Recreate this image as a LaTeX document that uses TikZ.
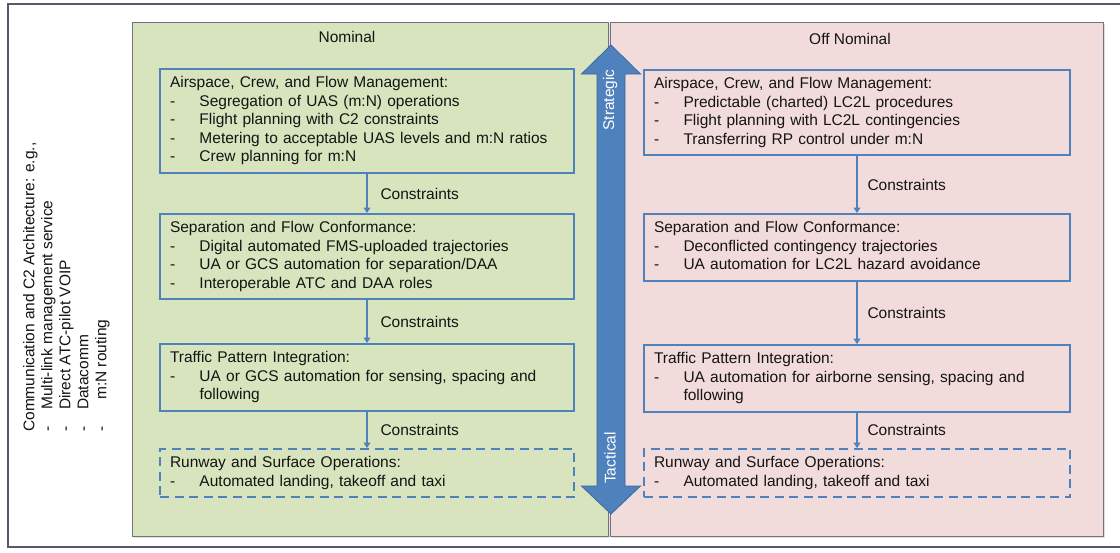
\documentclass[tikz,border=0pt]{standalone}
\usepackage{fontspec}
\setmainfont{Liberation Sans}
\usetikzlibrary{arrows.meta,shadows}
\setlength\parindent{0pt}

\definecolor{txt}{HTML}{141414}
\definecolor{nomfill}{HTML}{D7E4BD}
\definecolor{offfill}{HTML}{F2DCDB}
\definecolor{boxblue}{HTML}{4F81BD}
\definecolor{arrowedge}{HTML}{3A679C}
\definecolor{panelline}{HTML}{76717F}
\definecolor{frameline}{HTML}{5A5670}

% heading line and dashed list item inside a box
\newcommand\boxhead[1]{\noindent\strut#1\strut\par}
\newcommand\boxitem[1]{\hangindent=29.5pt\hangafter=1\noindent\strut\makebox[29.5pt][l]{-}#1\strut\par}

\begin{document}
\begin{tikzpicture}[x=1pt,y=-1pt,
  font=\fontsize{15.5pt}{18.6pt}\selectfont,
  every node/.style={text=txt},
  panel/.style={draw=panelline, line width=1.2pt, anchor=north west, inner sep=0pt,
    minimum height=514pt,
    drop shadow={opacity=0.25, shadow xshift=1.2pt, shadow yshift=-1.2pt}},
  infobox/.style={draw=boxblue, line width=2pt, text width=#1, inner xsep=10pt,
    inner ysep=5.5pt, align=left, anchor=north west},
  dashedbox/.style={infobox=#1, dash pattern=on 9pt off 5.5pt},
  conn/.style={draw=boxblue, line width=1.1pt, -{Triangle[width=7pt,length=5.5pt]}},
  lbl/.style={anchor=west, inner sep=0pt},
]
\useasboundingbox (0,0) rectangle (1120,552);
\clip (0,0) rectangle (1120,552);
\fill[white] (0,0) rectangle (1120,552);

% outer frame
\draw[frameline, line width=1.1pt] (8,4) rectangle (1135,547);

% the two panels
\node[panel, fill=nomfill, minimum width=476pt] (nom) at (132,22) {};
\node[panel, fill=offfill, minimum width=493pt] (off) at (610,22) {};
\node (nomtitle) at (347,37) {Nominal};
\node (offtitle) at (850,39) {Off Nominal};

% strategic / tactical double arrow
\filldraw[fill=boxblue, draw=arrowedge, line width=0.8pt]
  (611,45) -- (640.5,74) -- (625,74) -- (625,486) -- (640.5,486) -- (611,514)
  -- (581.5,486) -- (597,486) -- (597,74) -- (581.5,74) -- cycle;
\node[rotate=90, text=white] (strat) at (610,100) {Strategic};
\node[rotate=90, text=white] (tact) at (610,458) {Tactical};

% communication and C2 architecture list
\node[rotate=90, anchor=north west, inner sep=0pt, align=left,
      font=\fontsize{15.5pt}{18pt}\selectfont] (comm) at (23,432)
  {Communication and C2 Architecture: e.g.,\\
   \makebox[22pt][l]{-}Multi-link management service\\
   \makebox[22pt][l]{-}Direct ATC-pilot VOIP\\
   \makebox[22pt][l]{-}Datacomm\\
   \makebox[32pt][l]{-}m:N routing};

% nominal column
\node[infobox=394pt] (L1) at (159,68) {%
  \boxhead{Airspace, Crew, and Flow Management:}
  \boxitem{Segregation of UAS (m:N) operations}
  \boxitem{Flight planning with C2 constraints}
  \boxitem{Metering to acceptable UAS levels and m:N ratios}
  \boxitem{Crew planning for m:N}};
\node[infobox=394pt] (L2) at (159,213) {%
  \boxhead{Separation and Flow Conformance:}
  \boxitem{Digital automated FMS-uploaded trajectories}
  \boxitem{UA or GCS automation for separation/DAA}
  \boxitem{Interoperable ATC and DAA roles}};
\node[infobox=394pt] (L3) at (159,343) {%
  \boxhead{Traffic Pattern Integration:}
  \boxitem{UA or GCS automation for sensing, spacing and following}};
\node[dashedbox=394pt] (L4) at (159,448) {%
  \boxhead{Runway and Surface Operations:}
  \boxitem{Automated landing, takeoff and taxi}};

\draw[conn] (L1) -- node[lbl, xshift=13pt] {Constraints} (L2);
\draw[conn] (L2) -- node[lbl, xshift=13pt] {Constraints} (L3);
\draw[conn] (L3) -- node[lbl, xshift=13pt] {Constraints} (L4);

% off-nominal column
\node[infobox=406pt] (R1) at (643,69) {%
  \boxhead{Airspace, Crew, and Flow Management:}
  \boxitem{Predictable (charted) LC2L procedures}
  \boxitem{Flight planning with LC2L contingencies}
  \boxitem{Transferring RP control under m:N}};
\node[infobox=406pt] (R2) at (643,213) {%
  \boxhead{Separation and Flow Conformance:}
  \boxitem{Deconflicted contingency trajectories}
  \boxitem{UA automation for LC2L hazard avoidance}};
\node[infobox=406pt] (R3) at (643,344) {%
  \boxhead{Traffic Pattern Integration:}
  \boxitem{UA automation for airborne sensing, spacing and following}};
\node[dashedbox=406pt] (R4) at (643,448) {%
  \boxhead{Runway and Surface Operations:}
  \boxitem{Automated landing, takeoff and taxi}};

\draw[conn] (R1) -- node[lbl, xshift=10pt] {Constraints} (R2);
\draw[conn] (R2) -- node[lbl, xshift=10pt] {Constraints} (R3);
\draw[conn] (R3) -- node[lbl, xshift=10pt] {Constraints} (R4);
\end{tikzpicture}
\end{document}
